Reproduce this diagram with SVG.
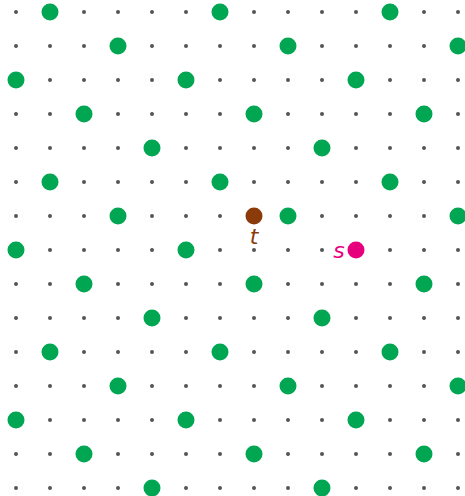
<svg xmlns="http://www.w3.org/2000/svg" xmlns:xlink="http://www.w3.org/1999/xlink" width="465" height="496" viewBox="0 0 465 496">
<style>
.g{fill:#555555}
.p{fill:#00a651}
.lbl{font-family:"DejaVu Sans",sans-serif;font-style:italic;font-size:22px;text-anchor:middle}
</style>
<defs>
<circle id="d" r="2" class="g"/>
<circle id="G" r="8.5" class="p"/>
</defs>
<rect width="465" height="496" fill="#ffffff"/>
<g id="grid">
<g id="r0" transform="translate(0,12)"><use href="#d" x="16"/><use href="#G" x="50"/><use href="#d" x="84"/><use href="#d" x="118"/><use href="#d" x="152"/><use href="#d" x="186"/><use href="#G" x="220"/><use href="#d" x="254"/><use href="#d" x="288"/><use href="#d" x="322"/><use href="#d" x="356"/><use href="#G" x="390"/><use href="#d" x="424"/><use href="#d" x="458"/></g>
<g id="r1" transform="translate(0,46)"><use href="#d" x="16"/><use href="#d" x="50"/><use href="#d" x="84"/><use href="#G" x="118"/><use href="#d" x="152"/><use href="#d" x="186"/><use href="#d" x="220"/><use href="#d" x="254"/><use href="#G" x="288"/><use href="#d" x="322"/><use href="#d" x="356"/><use href="#d" x="390"/><use href="#d" x="424"/><use href="#G" x="458"/></g>
<g id="r2" transform="translate(0,80)"><use href="#G" x="16"/><use href="#d" x="50"/><use href="#d" x="84"/><use href="#d" x="118"/><use href="#d" x="152"/><use href="#G" x="186"/><use href="#d" x="220"/><use href="#d" x="254"/><use href="#d" x="288"/><use href="#d" x="322"/><use href="#G" x="356"/><use href="#d" x="390"/><use href="#d" x="424"/><use href="#d" x="458"/></g>
<g id="r3" transform="translate(0,114)"><use href="#d" x="16"/><use href="#d" x="50"/><use href="#G" x="84"/><use href="#d" x="118"/><use href="#d" x="152"/><use href="#d" x="186"/><use href="#d" x="220"/><use href="#G" x="254"/><use href="#d" x="288"/><use href="#d" x="322"/><use href="#d" x="356"/><use href="#d" x="390"/><use href="#G" x="424"/><use href="#d" x="458"/></g>
<g id="r4" transform="translate(0,148)"><use href="#d" x="16"/><use href="#d" x="50"/><use href="#d" x="84"/><use href="#d" x="118"/><use href="#G" x="152"/><use href="#d" x="186"/><use href="#d" x="220"/><use href="#d" x="254"/><use href="#d" x="288"/><use href="#G" x="322"/><use href="#d" x="356"/><use href="#d" x="390"/><use href="#d" x="424"/><use href="#d" x="458"/></g>
<g id="r5" transform="translate(0,182)"><use href="#d" x="16"/><use href="#G" x="50"/><use href="#d" x="84"/><use href="#d" x="118"/><use href="#d" x="152"/><use href="#d" x="186"/><use href="#G" x="220"/><use href="#d" x="254"/><use href="#d" x="288"/><use href="#d" x="322"/><use href="#d" x="356"/><use href="#G" x="390"/><use href="#d" x="424"/><use href="#d" x="458"/></g>
<g id="r6" transform="translate(0,216)"><use href="#d" x="16"/><use href="#d" x="50"/><use href="#d" x="84"/><use href="#G" x="118"/><use href="#d" x="152"/><use href="#d" x="186"/><use href="#d" x="220"/><use href="#G" x="288"/><use href="#d" x="322"/><use href="#d" x="356"/><use href="#d" x="390"/><use href="#d" x="424"/><use href="#G" x="458"/></g>
<g id="r7" transform="translate(0,250)"><use href="#G" x="16"/><use href="#d" x="50"/><use href="#d" x="84"/><use href="#d" x="118"/><use href="#d" x="152"/><use href="#G" x="186"/><use href="#d" x="220"/><use href="#d" x="254"/><use href="#d" x="288"/><use href="#d" x="322"/><use href="#d" x="390"/><use href="#d" x="424"/><use href="#d" x="458"/></g>
<g id="r8" transform="translate(0,284)"><use href="#d" x="16"/><use href="#d" x="50"/><use href="#G" x="84"/><use href="#d" x="118"/><use href="#d" x="152"/><use href="#d" x="186"/><use href="#d" x="220"/><use href="#G" x="254"/><use href="#d" x="288"/><use href="#d" x="322"/><use href="#d" x="356"/><use href="#d" x="390"/><use href="#G" x="424"/><use href="#d" x="458"/></g>
<g id="r9" transform="translate(0,318)"><use href="#d" x="16"/><use href="#d" x="50"/><use href="#d" x="84"/><use href="#d" x="118"/><use href="#G" x="152"/><use href="#d" x="186"/><use href="#d" x="220"/><use href="#d" x="254"/><use href="#d" x="288"/><use href="#G" x="322"/><use href="#d" x="356"/><use href="#d" x="390"/><use href="#d" x="424"/><use href="#d" x="458"/></g>
<g id="r10" transform="translate(0,352)"><use href="#d" x="16"/><use href="#G" x="50"/><use href="#d" x="84"/><use href="#d" x="118"/><use href="#d" x="152"/><use href="#d" x="186"/><use href="#G" x="220"/><use href="#d" x="254"/><use href="#d" x="288"/><use href="#d" x="322"/><use href="#d" x="356"/><use href="#G" x="390"/><use href="#d" x="424"/><use href="#d" x="458"/></g>
<g id="r11" transform="translate(0,386)"><use href="#d" x="16"/><use href="#d" x="50"/><use href="#d" x="84"/><use href="#G" x="118"/><use href="#d" x="152"/><use href="#d" x="186"/><use href="#d" x="220"/><use href="#d" x="254"/><use href="#G" x="288"/><use href="#d" x="322"/><use href="#d" x="356"/><use href="#d" x="390"/><use href="#d" x="424"/><use href="#G" x="458"/></g>
<g id="r12" transform="translate(0,420)"><use href="#G" x="16"/><use href="#d" x="50"/><use href="#d" x="84"/><use href="#d" x="118"/><use href="#d" x="152"/><use href="#G" x="186"/><use href="#d" x="220"/><use href="#d" x="254"/><use href="#d" x="288"/><use href="#d" x="322"/><use href="#G" x="356"/><use href="#d" x="390"/><use href="#d" x="424"/><use href="#d" x="458"/></g>
<g id="r13" transform="translate(0,454)"><use href="#d" x="16"/><use href="#d" x="50"/><use href="#G" x="84"/><use href="#d" x="118"/><use href="#d" x="152"/><use href="#d" x="186"/><use href="#d" x="220"/><use href="#G" x="254"/><use href="#d" x="288"/><use href="#d" x="322"/><use href="#d" x="356"/><use href="#d" x="390"/><use href="#G" x="424"/><use href="#d" x="458"/></g>
<g id="r14" transform="translate(0,488)"><use href="#d" x="16"/><use href="#d" x="50"/><use href="#d" x="84"/><use href="#d" x="118"/><use href="#G" x="152"/><use href="#d" x="186"/><use href="#d" x="220"/><use href="#d" x="254"/><use href="#d" x="288"/><use href="#G" x="322"/><use href="#d" x="356"/><use href="#d" x="390"/><use href="#d" x="424"/><use href="#d" x="458"/></g>
</g>
<g id="node-t">
<circle cx="254" cy="216" r="8.5" fill="#8b3a0a"/>
<text class="lbl" x="254" y="244" fill="#8b3a0a">t</text>
</g>
<g id="node-s">
<circle cx="356" cy="250" r="8.5" fill="#e6007e"/>
<text class="lbl" x="339" y="258" fill="#e6007e">s</text>
</g>
</svg>
